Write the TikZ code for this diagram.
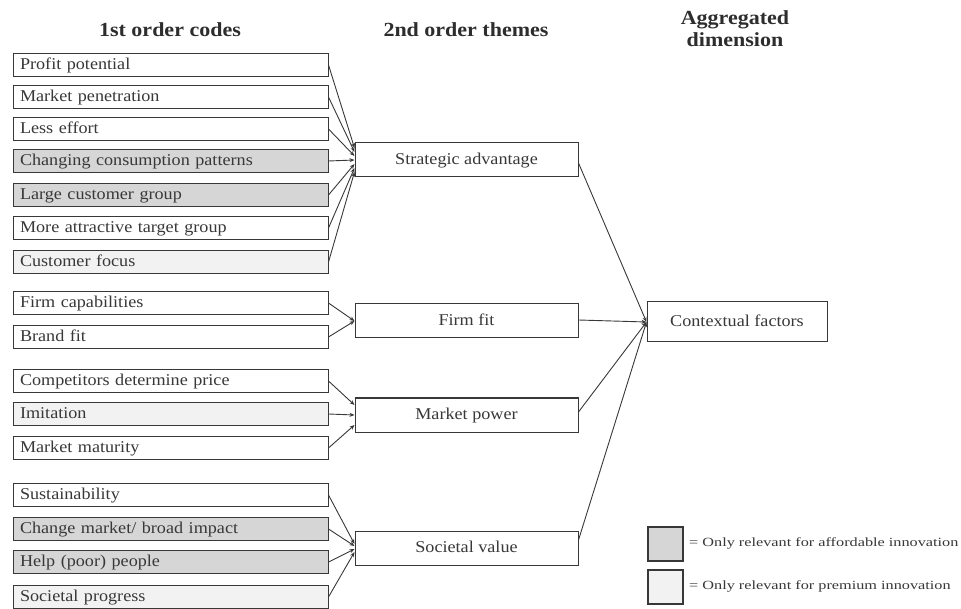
\documentclass[tikz,border=0pt]{standalone}
\usepackage{fontspec}
\setmainfont{Liberation Serif}[FakeStretch=1.1]
\newfontfamily\legendfont{Liberation Serif}[FakeStretch=1.3]
\usetikzlibrary{arrows.meta}
\definecolor{affordable}{gray}{0.84}
\definecolor{premium}{gray}{0.95}
\definecolor{ink}{gray}{0.22}
\tikzset{
  codebox/.style={draw=ink, line width=1pt, fill=white, minimum height=23pt,
    inner xsep=7pt, inner ysep=0pt, text width=301pt, align=left,
    text height=10pt, text depth=1pt,
    font=\fontsize{16.5}{18}\selectfont, text=ink},
  themebox/.style={draw=ink, line width=1pt, fill=white, minimum height=34pt,
    minimum width=223pt, inner sep=0pt, text height=10pt, text depth=1pt,
    font=\fontsize{16.5}{18}\selectfont, text=ink},
  dimbox/.style={draw=ink, line width=1pt, fill=white, minimum height=40pt,
    minimum width=180pt, inner sep=0pt, text height=10pt, text depth=1pt,
    font=\fontsize{16.5}{18}\selectfont, text=ink},
  heading/.style={font=\fontsize{20}{22}\selectfont\bfseries, text=ink!80!black, align=center},
  link/.style={draw=ink, line width=0.9pt, -{Stealth[length=5pt,width=4pt]}},
  keybox/.style={draw=ink, line width=1.2pt, minimum width=35pt, minimum height=34pt},
  keytext/.style={font=\legendfont\fontsize{12.5}{14}\selectfont, text=ink, anchor=west, inner sep=0pt}
}
\begin{document}
\begin{tikzpicture}[x=1pt, y=-1pt]
\useasboundingbox (0,0) rectangle (961,609);

% column headings
\node[heading] (h1) at (170,30) {1st order codes};
\node[heading] (h2) at (466,30) {2nd order themes};
\node[heading] (h3) at (735,29) {Aggregated\\dimension};

% first-order codes
\node[codebox] (c1)  at (170.5,65)  {Profit potential};
\node[codebox] (c2)  at (170.5,97)  {Market penetration};
\node[codebox] (c3)  at (170.5,129) {Less effort};
\node[codebox, fill=affordable] (c4) at (170.5,161) {Changing consumption patterns};
\node[codebox, fill=affordable] (c5) at (170.5,195) {Large customer group};
\node[codebox] (c6)  at (170.5,228) {More attractive target group};
\node[codebox, fill=premium] (c7) at (170.5,262) {Customer focus};

\node[codebox] (c8)  at (170.5,303) {Firm capabilities};
\node[codebox] (c9)  at (170.5,337) {Brand fit};

\node[codebox] (c10) at (170.5,381) {Competitors determine price};
\node[codebox, fill=premium] (c11) at (170.5,414) {Imitation};
\node[codebox] (c12) at (170.5,448) {Market maturity};

\node[codebox] (c13) at (170.5,495) {Sustainability};
\node[codebox, fill=affordable] (c14) at (170.5,529) {Change market/ broad impact};
\node[codebox, fill=affordable] (c15) at (170.5,562) {Help (poor) people};
\node[codebox, fill=premium] (c16) at (170.5,597) {Societal progress};

% second-order themes
\node[themebox] (sa) at (466.5,160) {Strategic advantage};
\node[themebox] (ff) at (466.5,321) {Firm fit};
\node[themebox] (mp) at (466.5,415) {Market power};
\node[themebox] (sv) at (466.5,548) {Societal value};

% aggregated dimension
\node[dimbox] (cf) at (737,322) {Contextual factors};

% codes -> themes
\draw[link] (c1.east) -- ([yshift=12pt]sa.west);
\draw[link] (c2.east) -- ([yshift=8pt]sa.west);
\draw[link] (c3.east) -- ([yshift=4pt]sa.west);
\draw[link] (c4.east) -- (sa.west);
\draw[link] (c5.east) -- ([yshift=-4pt]sa.west);
\draw[link] (c6.east) -- ([yshift=-8pt]sa.west);
\draw[link] (c7.east) -- ([yshift=-12pt]sa.west);

\draw[link] (c8.east) -- (ff.west);
\draw[link] (c9.east) -- (ff.west);

\draw[link] (c10.east) -- ([yshift=10pt]mp.west);
\draw[link] (c11.east) -- (mp.west);
\draw[link] (c12.east) -- ([yshift=-10pt]mp.west);

\draw[link] (c13.east) -- ([yshift=4pt]sv.west);
\draw[link] (c14.east) -- ([yshift=2pt]sv.west);
\draw[link] (c15.east) -- ([yshift=-1pt]sv.west);
\draw[link] (c16.east) -- ([yshift=-4pt]sv.west);

% themes -> aggregated dimension
\draw[link] ([yshift=-3pt]sa.east) -- (cf.west);
\draw[link] ([yshift=1pt]ff.east) -- (cf.west);
\draw[link] ([yshift=3pt]mp.east) -- (cf.west);
\draw[link] ([yshift=8pt]sv.east) -- (cf.west);

% legend
\node[keybox, fill=affordable] (k1) at (665.5,544) {};
\node[keytext] (t1) at (689,543) {= Only relevant for affordable innovation};
\node[keybox, fill=premium] (k2) at (665.5,587) {};
\node[keytext] (t2) at (689,586) {= Only relevant for premium innovation};
\end{tikzpicture}
\end{document}
